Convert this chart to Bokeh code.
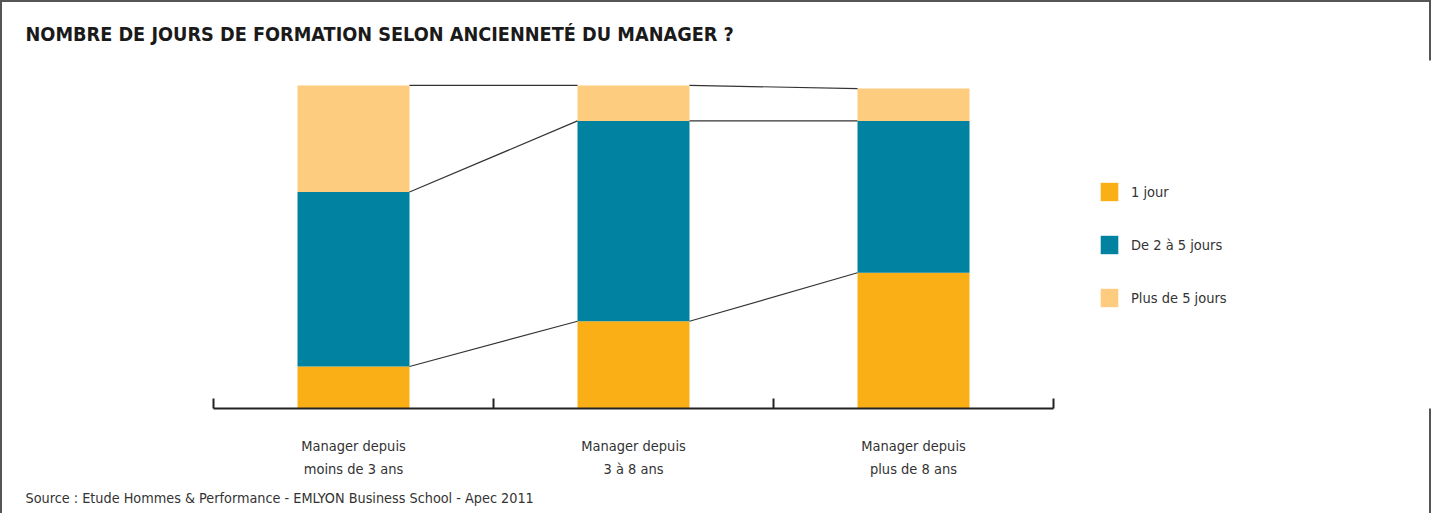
from bokeh.plotting import figure
from bokeh.models import ColumnDataSource, Legend, LegendItem, FixedTicker, Title, Range1d
from bokeh.embed import file_html
from bokeh.resources import INLINE

# ---- data ----
categories = ["Manager depuis\nmoins de 3 ans", "Manager depuis\n3 à 8 ans", "Manager depuis\nplus de 8 ans"]
series_names = ["1 jour", "De 2 à 5 jours", "Plus de 5 jours"]
un_jour = [13, 27, 42]
deux_a_cinq = [54, 62, 47]
plus_de_cinq = [33, 11, 10]

title_text = "NOMBRE DE JOURS DE FORMATION SELON ANCIENNETÉ DU MANAGER ?"
source_text = "Source : Etude Hommes & Performance - EMLYON Business School - Apec 2011"

colors = ["#FBAF17", "#0082A0", "#FECC7E"]
FONT = "'Liberation Sans Narrow', 'DejaVu Sans Condensed', 'Arial Narrow', sans-serif"

W, H = 1431, 513
p = figure(width=W, height=H, output_backend="svg", toolbar_location=None,
           x_range=Range1d(0, 4.35), y_range=Range1d(0, 107.7),
           min_border_left=213, min_border_right=0, min_border_top=60, min_border_bottom=104)
p.border_fill_color = None
p.outline_line_color = None
p.grid.visible = False
p.yaxis.visible = False
p.styles = {"box-shadow": "inset 2px 0 0 #555, inset -2px 0 0 #555, inset 0 2px 0 #555"}

xc = [i + 0.5 for i in range(len(categories))]
b1 = [0] * 3
t1 = un_jour
t2 = [a + b for a, b in zip(un_jour, deux_a_cinq)]
t3 = [a + b + c for a, b, c in zip(un_jour, deux_a_cinq, plus_de_cinq)]

src = ColumnDataSource(dict(x=xc, b1=b1, t1=t1, t2=t2, t3=t3))
bw = 0.4
r1 = p.vbar(x="x", bottom="b1", top="t1", width=bw, source=src, fill_color=colors[0], line_color=None)
r2 = p.vbar(x="x", bottom="t1", top="t2", width=bw, source=src, fill_color=colors[1], line_color=None)
r3 = p.vbar(x="x", bottom="t2", top="t3", width=bw, source=src, fill_color=colors[2], line_color=None)

# connecting lines between adjacent bars
xs, ys = [], []
for i in range(len(xc) - 1):
    for lev in (t1, t2, t3):
        xs.append([xc[i] + bw / 2, xc[i + 1] - bw / 2])
        ys.append([lev[i], lev[i + 1]])
p.multi_line(xs=xs, ys=ys, line_color="#333333", line_width=1.2)

# x axis
ax = p.xaxis[0]
ax.ticker = FixedTicker(ticks=xc, minor_ticks=[0, 1, 2, 3])
ax.major_label_overrides = {x: c for x, c in zip(xc, categories)}
ax.bounds = (0, 3)
ax.axis_line_color = "#222222"
ax.axis_line_width = 2
ax.major_tick_line_color = None
ax.major_tick_in = 0
ax.major_tick_out = 0
ax.minor_tick_line_color = "#222222"
ax.minor_tick_line_width = 2
ax.minor_tick_in = 10
ax.minor_tick_out = 0
ax.major_label_standoff = 29
ax.major_label_text_font = FONT
ax.major_label_text_font_size = "14.5px"
ax.major_label_text_color = "#333333"
ax.major_label_text_line_height = 1.45

# legend
legend = Legend(items=[LegendItem(label=series_names[0], renderers=[r1]),
                       LegendItem(label=series_names[1], renderers=[r2]),
                       LegendItem(label=series_names[2], renderers=[r3])],
                location=(885, 99), orientation="vertical")
legend.glyph_width = 22
legend.glyph_height = 23
legend.spacing = 30
legend.padding = 0
legend.margin = 0
legend.label_standoff = 11
legend.border_line_color = None
legend.background_fill_color = None
legend.label_text_font = FONT
legend.label_text_font_size = "14.5px"
legend.label_text_color = "#333333"
p.add_layout(legend)

# titles
p.title.text = title_text
p.title.align = "left"
p.title.offset = -188
p.title.standoff = 29
p.title.text_font = FONT
p.title.text_font_size = "19.7px"
p.title.text_font_style = "bold"
p.title.text_color = "#1a1a1a"

src_title = Title(text=source_text, align="left", offset=-188, standoff=16, text_font=FONT,
                  text_font_size="14.3px", text_font_style="normal", text_color="#333333")
p.add_layout(src_title, "below")

open("out.html", "w").write(file_html(p, INLINE))
